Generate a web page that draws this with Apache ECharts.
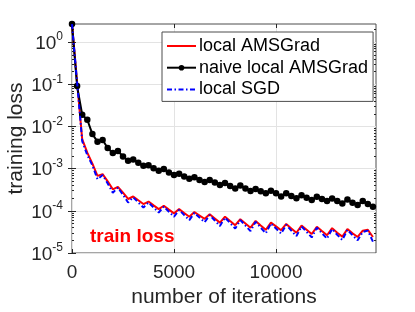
<!DOCTYPE html>
<html>
<head>
<meta charset="utf-8">
<script src="https://cdn.jsdelivr.net/npm/echarts@6/dist/echarts.min.js"></script>
<style>html,body{margin:0;padding:0;background:#fff}#c{width:415px;height:312px}</style>
</head>
<body>
<div id="c"></div>
<script>
const iterations = [0,250,500,750,1000,1250,1500,1750,2000,2250,2500,2750,3000,3250,3500,3750,4000,4250,4500,4750,5000,5250,5500,5750,6000,6250,6500,6750,7000,7250,7500,7750,8000,8250,8500,8750,9000,9250,9500,9750,10000,10250,10500,10750,11000,11250,11500,11750,12000,12250,12500,12750,13000,13250,13500,13750,14000,14250,14500,14750];

const localAMSGrad = [2.69,0.112,5.01e-3,2.40e-3,1.32e-3,6.76e-4,7.41e-4,5.01e-4,3.24e-4,3.72e-4,2.69e-4,1.91e-4,2.19e-4,1.78e-4,1.45e-4,1.66e-4,1.35e-4,1.10e-4,1.32e-4,1.07e-4,8.71e-5,1.10e-4,8.91e-5,7.24e-5,9.33e-5,7.76e-5,6.46e-5,8.32e-5,6.61e-5,5.25e-5,7.24e-5,5.75e-5,4.57e-5,6.31e-5,5.01e-5,3.98e-5,5.75e-5,4.47e-5,3.55e-5,5.25e-5,4.27e-5,3.47e-5,4.90e-5,3.80e-5,3.02e-5,4.47e-5,3.55e-5,2.82e-5,4.17e-5,3.31e-5,2.63e-5,3.89e-5,3.02e-5,2.45e-5,3.72e-5,2.95e-5,2.40e-5,3.39e-5,3.55e-5,2.40e-5];

const naiveLocalAMSGrad = [2.69,0.091,0.019,0.0145,6.6e-3,4.37e-3,4.79e-3,3.09e-3,2.34e-3,2.63e-3,1.95e-3,1.55e-3,1.66e-3,1.38e-3,1.17e-3,1.20e-3,1.02e-3,8.9e-4,9.8e-4,8.1e-4,7.1e-4,7.6e-4,6.5e-4,5.75e-4,6.3e-4,5.4e-4,4.8e-4,5.4e-4,4.7e-4,4.1e-4,4.6e-4,3.9e-4,3.4e-4,4.0e-4,3.4e-4,2.95e-4,3.3e-4,2.9e-4,2.6e-4,3.0e-4,2.6e-4,2.2e-4,2.6e-4,2.25e-4,2.0e-4,2.35e-4,2.05e-4,1.8e-4,2.15e-4,1.9e-4,1.7e-4,1.95e-4,1.7e-4,1.5e-4,1.85e-4,1.55e-4,1.38e-4,1.7e-4,1.45e-4,1.25e-4];

const localSGD = [2.69,0.112,4.47e-3,2.09e-3,1.20e-3,5.62e-4,7.08e-4,4.47e-4,2.69e-4,3.55e-4,2.40e-4,1.58e-4,2.09e-4,1.58e-4,1.20e-4,1.58e-4,1.20e-4,9.12e-5,1.26e-4,9.55e-5,7.24e-5,1.05e-4,7.94e-5,6.03e-5,8.91e-5,6.92e-5,5.37e-5,7.94e-5,5.89e-5,4.37e-5,6.92e-5,5.13e-5,3.80e-5,6.03e-5,4.47e-5,3.31e-5,5.50e-5,3.98e-5,2.95e-5,5.01e-5,3.80e-5,2.88e-5,4.68e-5,3.39e-5,2.51e-5,4.27e-5,3.16e-5,2.34e-5,3.98e-5,2.95e-5,2.19e-5,3.72e-5,2.69e-5,2.04e-5,3.55e-5,2.63e-5,2.00e-5,3.16e-5,3.39e-5,1.86e-5];

const seriesNames = ['local AMSGrad', 'naive local AMSGrad', 'local SGD'];
const xTickValues = [0, 5000, 10000];
const yTickValues = [1e-5, 1e-4, 1e-3, 1e-2, 1e-1, 1];
const annotation = 'train loss';

const minorTickValues = [];
for (let e = -5; e <= 0; e++) {
  for (let m = 2; m <= 9; m++) {
    const v = m * Math.pow(10, e);
    if (v <= 2.7) minorTickValues.push(v);
  }
}

const FONT = 'Liberation Sans, Arial, Helvetica, sans-serif';
const AX = '#262626';
const pairs = arr => iterations.map((x, i) => [x, arr[i]]);

const chart = echarts.init(document.getElementById('c'), null, {renderer: 'canvas'});
chart.setOption({
  animation: false,
  grid: {left: 72, right: 39, top: 24, bottom: 59, show: true, borderColor: '#4d4d4d', borderWidth: 1,
         containLabel: false, outerBoundsMode: 'none'},
  legend: {
    orient: 'vertical', left: 162, top: 32,
    padding: [5, 5, 3, 4], itemGap: 3.7, itemWidth: 29, itemHeight: 7,
    backgroundColor: '#fff', borderColor: '#4d4d4d', borderWidth: 1, borderRadius: 0,
    textStyle: {fontFamily: FONT, fontSize: 18, color: '#000', lineHeight: 18, padding: [0, 0, 0, -2]},
    data: [
      {name: seriesNames[0], itemStyle: {opacity: 0}},
      {name: seriesNames[1]},
      {name: seriesNames[2], itemStyle: {opacity: 0}}
    ]
  },
  xAxis: [{
    type: 'value', min: 0, max: 14900, interval: 5000, position: 'bottom',
    name: 'number of iterations', nameLocation: 'middle', nameGap: 34, nameMoveOverlap: false,
    nameTextStyle: {fontFamily: FONT, fontSize: 21, color: AX},
    axisLine: {show: false},
    axisTick: {show: true, inside: true, length: 4, lineStyle: {color: AX}, customValues: xTickValues},
    axisLabel: {fontFamily: FONT, fontSize: 19, color: AX, margin: 10, customValues: xTickValues,
                formatter: v => String(v)},
    splitLine: {show: true, lineStyle: {color: '#e3e3e3', width: 1}}
  }, {
    type: 'value', min: 0, max: 14900, interval: 5000, position: 'top',
    axisLine: {show: false},
    axisTick: {show: true, inside: true, length: 4, lineStyle: {color: AX}, customValues: xTickValues},
    axisLabel: {show: false}, splitLine: {show: false}
  }],
  yAxis: [{
    type: 'log', min: 1e-5, max: 2.7, logBase: 10, position: 'left',
    name: 'training loss', nameLocation: 'middle', nameGap: 45, nameMoveOverlap: false,
    nameTextStyle: {fontFamily: FONT, fontSize: 21, color: AX},
    axisLine: {show: false},
    axisTick: {show: true, inside: true, length: 4, lineStyle: {color: AX}, customValues: yTickValues},
    axisLabel: {
      margin: 9, customValues: yTickValues,
      formatter: v => '{b|10}{s|' + Math.round(Math.log10(v)) + '}',
      rich: {
        b: {fontFamily: FONT, fontSize: 19, color: AX, verticalAlign: 'bottom', lineHeight: 22},
        s: {fontFamily: FONT, fontSize: 12, color: AX, verticalAlign: 'top', lineHeight: 22}
      }
    },
    splitLine: {show: true, lineStyle: {color: '#e3e3e3', width: 1}}
  }, {
    type: 'log', min: 1e-5, max: 2.7, logBase: 10, position: 'right',
    axisLine: {show: false},
    axisTick: {show: true, inside: true, length: 4, lineStyle: {color: AX}, customValues: yTickValues},
    axisLabel: {show: false}, splitLine: {show: false}
  }, {
    type: 'log', min: 1e-5, max: 2.7, logBase: 10, position: 'left', offset: 0,
    axisLine: {show: false},
    axisTick: {show: true, inside: true, length: 2, lineStyle: {color: AX}, customValues: minorTickValues},
    axisLabel: {show: false}, splitLine: {show: false}
  }, {
    type: 'log', min: 1e-5, max: 2.7, logBase: 10, position: 'right', offset: 0,
    axisLine: {show: false},
    axisTick: {show: true, inside: true, length: 2, lineStyle: {color: AX}, customValues: minorTickValues},
    axisLabel: {show: false}, splitLine: {show: false}
  }],
  series: [{
    name: seriesNames[0], type: 'line', data: pairs(localAMSGrad), showSymbol: false, symbol: 'none',
    lineStyle: {color: '#ff0000', width: 2}, itemStyle: {color: '#ff0000'}, clip: false, z: 2
  }, {
    name: seriesNames[1], type: 'line', data: pairs(naiveLocalAMSGrad), symbol: 'circle', symbolSize: 6.5,
    lineStyle: {color: '#000', width: 2}, itemStyle: {color: '#000'}, clip: false, z: 3
  }, {
    name: seriesNames[2], type: 'line', data: pairs(localSGD), showSymbol: false, symbol: 'none',
    lineStyle: {color: '#0000ff', width: 2, type: [5, 2.5, 1.5, 2.5]}, itemStyle: {color: '#0000ff'}, clip: false, z: 4
  }],
  graphic: [{
    type: 'text', left: 90, top: 227, z: 10,
    style: {text: annotation, fill: '#ff0000', font: 'bold 19px ' + FONT}
  }]
});
</script>
</body>
</html>
